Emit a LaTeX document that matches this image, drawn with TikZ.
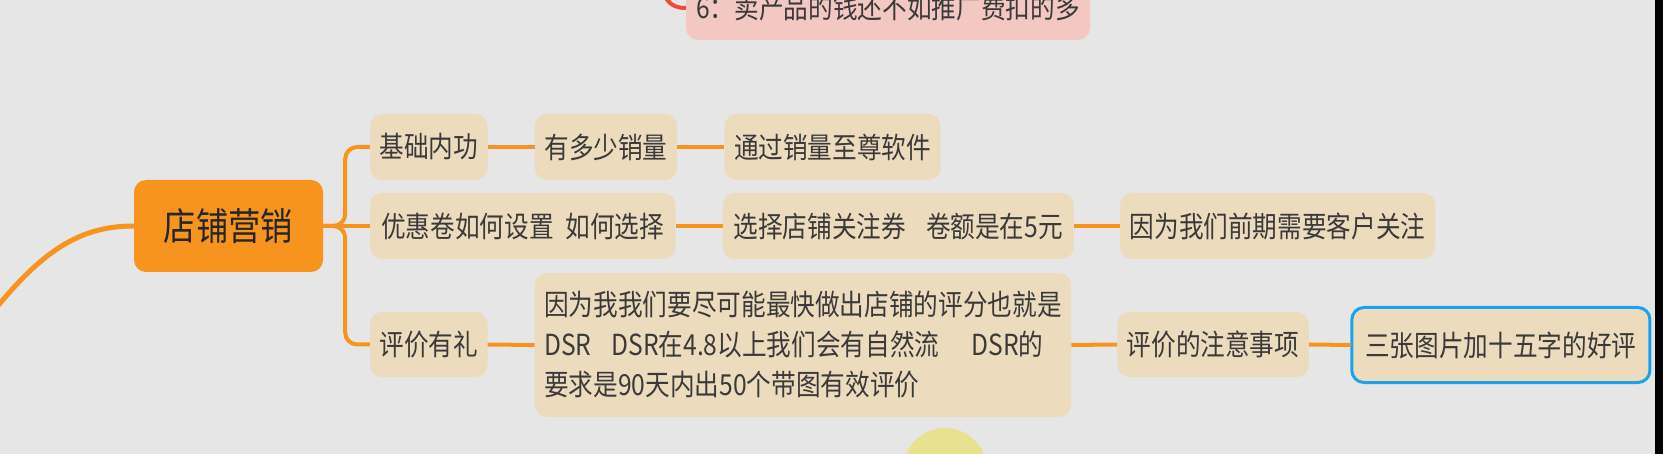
\documentclass[tikz,border=0pt]{standalone}
\usepackage{fontspec}
\newfontfamily\cjk[FakeStretch=0.85]{Noto Sans CJK SC}
\definecolor{bg}{HTML}{E6E6E6}
\definecolor{orng}{HTML}{F7941D}
\definecolor{beige}{HTML}{EDDBBE}
\definecolor{pinkf}{HTML}{F3C8C2}
\definecolor{redl}{HTML}{EF4B36}
\definecolor{bluel}{HTML}{1AA3EC}
\definecolor{txt}{HTML}{3A3A3A}
\definecolor{yel}{HTML}{E8E190}
\begin{document}
\begin{tikzpicture}[x=1pt,y=-1pt,
  box/.style={fill=beige, rounded corners=12pt, text=txt, inner sep=0pt,
    font=\cjk\fontsize{29}{40}\selectfont, minimum height=66pt},
  mainbox/.style={fill=orng, rounded corners=12pt, text=black!85, inner sep=0pt,
    font=\cjk\fontsize{38}{44}\selectfont},
  pinkbox/.style={fill=pinkf, rounded corners=12pt, text=txt, inner sep=0pt,
    font=\cjk\fontsize{29}{40}\selectfont},
  conn/.style={draw=orng, line width=4pt},
  hilite/.style={draw=bluel, line width=3pt}]
\useasboundingbox (0,0) rectangle (1663,454);
\fill[bg] (0,0) rectangle (1663,454);
\clip (0,0) rectangle (1663,454);
\fill[black] (1655,0) rectangle (1663,454);
\fill[yel] (945,470) circle (42);

% top pink node
\node[pinkbox, minimum width=404pt, minimum height=64pt] (p) at (888,8) {6：卖产品的钱还不如推广费扣的多};
\coordinate (rs) at (661,-30);
\draw[draw=redl, line width=4pt] (rs) .. controls (661,0) and (670,8) .. (p.west);

% central
\node[mainbox, minimum width=189pt, minimum height=92pt] (c) at (228.5,226) {店铺营销};
\coordinate (ls) at (-25,335);
\draw[conn, line width=5pt] (ls) .. controls (35,255) and (75,226) .. (c.west);

% level 1
\node[box, minimum width=117.5pt] (b1) at (428.75,147) {基础内功};
\node[box, minimum width=305.4pt] (b2) at (522.7,226) {优惠卷如何设置\hspace{12pt}如何选择};
\node[box, minimum width=117.5pt, minimum height=65pt] (b3) at (428.75,344.5) {评价有礼};

% level 2/3
\node[box, minimum width=142.4pt] (b1a) at (606,147) {有多少销量};
\node[box, minimum width=216pt] (b1b) at (832.6,147) {通过销量至尊软件};
\node[box, minimum width=351pt] (b2a) at (898.2,226) {选择店铺关注券\hspace{20pt}卷额是在5元};
\node[box, minimum width=315pt] (b2b) at (1277.6,226) {因为我们前期需要客户关注};
\node[box, minimum width=536.4pt, minimum height=144pt, align=left] (b3a) at (803,345)
  {因为我我们要尽可能最快做出店铺的评分也就是\\DSR\hspace{20pt}DSR在4.8以上我们会有自然流\hspace{32pt}DSR的\\要求是90天内出50个带图有效评价};
\node[box, minimum width=191.5pt, minimum height=65pt] (b3b) at (1213,344.5) {评价的注意事项};
\node[box, hilite, minimum width=298pt, minimum height=75pt] (b3c) at (1500.9,345) {三张图片加十五字的好评};

% connectors
\draw[conn] (c.east) -- (b2.west);
\draw[conn, rounded corners=12pt] (c.east) -- ++(22,0) |- (b1.west);
\draw[conn, rounded corners=12pt] (c.east) -- ++(22,0) |- (b3.west);
\draw[conn] (b1.east) -- (b1a.west);
\draw[conn] (b1a.east) -- (b1b.west);
\draw[conn] (b2.east) -- (b2a.west);
\draw[conn] (b2a.east) -- (b2b.west);
\draw[conn] (b3.east) -- (b3a.west);
\draw[conn] (b3a.east) -- (b3b.west);
\draw[conn] (b3b.east) -- (b3c.west);
\end{tikzpicture}
\end{document}
